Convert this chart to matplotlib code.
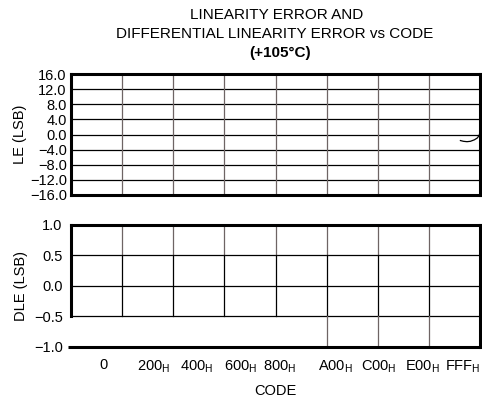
import numpy as np
import matplotlib.pyplot as plt

plt.rcParams['font.family'] = ['Liberation Sans', 'DejaVu Sans']

# grid positions (codes) and the tick labels as placed in the original
grid_codes = [512, 1024, 1536, 2048, 2560, 3072, 3584]
label_pos = [327, 826, 1262, 1695, 2093, 2652, 3084, 3515, 3926]
label_txt = ['0', '200', '400', '600', '800', 'A00', 'C00', 'E00', 'FFF']

le_ticks = [16, 12, 8, 4, 0, -4, -8, -12, -16]
dle_ticks = [1.0, 0.5, 0.0, -0.5, -1.0]

# LE trace, only visible near the top end of the code range
le_code = [3900, 3930, 3966, 4000, 4040, 4070, 4088, 4096]
le_val = [-1.6, -1.8, -1.9, -1.8, -1.4, -0.9, -0.2, 0.6]

grey = '#6e6464'
thick = 2.2
thin = 0.9
fs = 10.5


def fmt(v):
    s = '%.1f' % abs(v)
    return ('\u2212' + s) if v < 0 else s


fig = plt.figure(figsize=(4.82, 4.01), dpi=100)
ax1 = fig.add_axes([71 / 482, 1 - 195 / 401, 409 / 482, 121 / 401])
ax2 = fig.add_axes([71 / 482, 1 - 346.7 / 401, 409 / 482, 121.7 / 401])

# title, three lines
fig.text(277 / 482, 1 - 15 / 401, 'LINEARITY ERROR AND', ha='center', va='center', fontsize=11)
fig.text(275 / 482, 1 - 34 / 401, 'DIFFERENTIAL LINEARITY ERROR vs CODE', ha='center', va='center',
         fontsize=11)
fig.text(280 / 482, 1 - 53 / 401, '(+105°C)', ha='center', va='center', fontsize=11,
         fontweight='bold')

# ---- top: LE ----
ax1.set_xlim(0, 4096)
ax1.set_ylim(-16, 16)
for y in le_ticks[1:-1]:
    ax1.axhline(y, color='black', lw=thin)
for x in grid_codes:
    ax1.axvline(x, color=grey, lw=thin)
ax1.plot(le_code, le_val, color='black', lw=0.9)
for s in ax1.spines.values():
    s.set_linewidth(thick)
ax1.set_yticks(le_ticks)
ax1.set_yticklabels([fmt(v) for v in le_ticks])
ax1.tick_params(length=0, labelsize=fs, pad=3)
ax1.set_xticks([])
ax1.set_ylabel('LE (LSB)', fontsize=fs, labelpad=2)

# ---- bottom: DLE ----
ax2.set_xlim(0, 4096)
ax2.set_ylim(-1, 1)
for y in [0.5, 0.0, -0.5]:
    ax2.axhline(y, color='black', lw=thin)
for i, x in enumerate(grid_codes):
    ax2.plot([x, x], [0.5, 1.0], color=grey, lw=thin)
    ax2.plot([x, x], [-0.5, 0.5], color='black', lw=thin)
    if i >= 4:
        ax2.plot([x, x], [-1.0, -0.5], color=grey, lw=thin)
ax2.spines['left'].set_bounds(-0.5, 1.0)
for s in ax2.spines.values():
    s.set_linewidth(thick)
ax2.spines['bottom'].set_visible(False)
ax2.plot([-30, 4096], [-1, -1], color='black', lw=thick, clip_on=False,
         solid_capstyle='butt')
ax2.set_yticks(dle_ticks)
ax2.set_yticklabels([fmt(v) for v in dle_ticks])
ax2.tick_params(axis='y', length=0, labelsize=fs, pad=6)
ax2.set_xticks(label_pos)
ax2.set_xticklabels([t if t == '0' else t + r'$_\mathregular{H}$' for t in label_txt])
ax2.tick_params(axis='x', length=0, labelsize=fs, pad=8)
ax2.set_xlabel('CODE', fontsize=fs, labelpad=7)
ax2.set_ylabel('DLE (LSB)', fontsize=fs, labelpad=4)

fig.savefig('out.png', dpi=100)
